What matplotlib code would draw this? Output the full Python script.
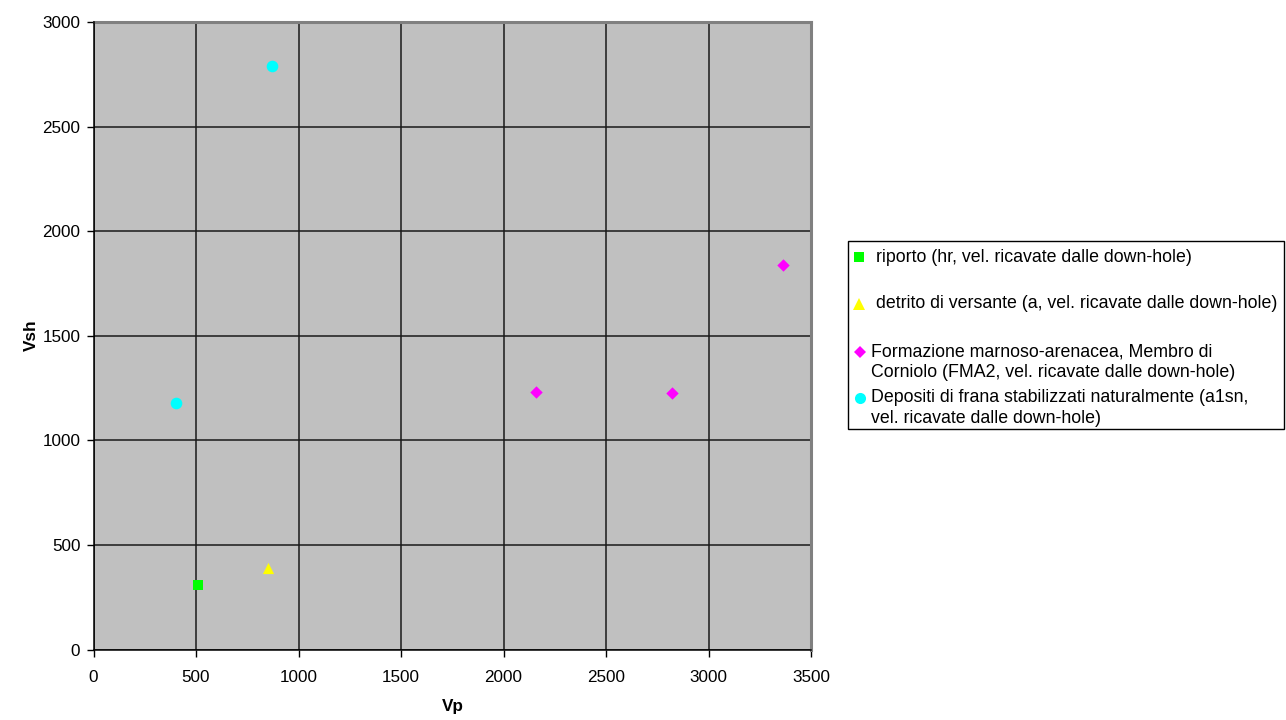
import matplotlib
matplotlib.use("Agg")
import matplotlib.pyplot as plt
from matplotlib.patches import Rectangle
from matplotlib.lines import Line2D

plt.rcParams['font.family'] = ['Liberation Sans', 'DejaVu Sans']

# Velocity measurements (Vp, Vsh) per geological unit
riporto_vp = [510]
riporto_vsh = [310]
detrito_vp = [850]
detrito_vsh = [390]
fma2_vp = [2160, 2820, 3365]
fma2_vsh = [1230, 1228, 1840]
a1sn_vp = [870, 400]
a1sn_vsh = [2790, 1180]

labels = [
    "riporto (hr, vel. ricavate dalle down-hole)",
    "detrito di versante (a, vel. ricavate dalle down-hole)",
    "Formazione marnoso-arenacea, Membro di\nCorniolo (FMA2, vel. ricavate dalle down-hole)",
    "Depositi di frana stabilizzati naturalmente (a1sn,\nvel. ricavate dalle down-hole)",
]
x_ticks = [0, 500, 1000, 1500, 2000, 2500, 3000, 3500]
y_ticks = [0, 500, 1000, 1500, 2000, 2500, 3000]

W, H = 1286, 720
fig = plt.figure(figsize=(W / 100, H / 100), dpi=100)
fig.patch.set_facecolor('white')

left, right, top, bottom = 93.5, 811, 22, 649.5
ax = fig.add_axes([left / W, 1 - bottom / H, (right - left) / W, (bottom - top) / H])
ax.set_facecolor('#C0C0C0')
ax.set_xlim(0, 3500)
ax.set_ylim(0, 3000)
ax.set_xticks(x_ticks)
ax.set_yticks(y_ticks)
ax.grid(True, color='#1a1a1a', linewidth=1.1)
ax.set_axisbelow(True)
for s in ['top', 'right']:
    ax.spines[s].set_color('#808080')
    ax.spines[s].set_linewidth(2.2)
for s in ['left', 'bottom']:
    ax.spines[s].set_color('black')
    ax.spines[s].set_linewidth(1.1)
    ax.spines[s].set_zorder(5)
ax.tick_params(direction='out', length=5, width=1, color='black', labelsize=12.3)
ax.tick_params(axis='y', pad=4.5)
ax.tick_params(axis='x', pad=10)

ax.scatter(riporto_vp, riporto_vsh, marker='s', s=60, color='#00FF00', zorder=4, linewidths=0)
ax.scatter(detrito_vp, detrito_vsh, marker='^', s=65, color='#FFFF00', zorder=4, linewidths=0)
ax.scatter(fma2_vp, fma2_vsh, marker='D', s=40, color='#FF00FF', zorder=4, linewidths=0)
ax.scatter(a1sn_vp, a1sn_vsh, marker='o', s=70, color='#00FFFF', zorder=4, linewidths=0)

# Axis titles placed in pixel coordinates
fig.text(453 / W, 1 - 706 / H, 'Vp', fontsize=12.3, fontweight='bold', ha='center', va='center')
fig.text(31 / W, 1 - 335 / H, 'Vsh', fontsize=12.3, fontweight='bold', ha='center', va='center',
         rotation=90)

# Legend panel drawn in pixel coordinates
lax = fig.add_axes([0, 0, 1, 1])
lax.set_xlim(0, W)
lax.set_ylim(H, 0)
lax.axis('off')
lax.add_patch(Rectangle((848, 241), 436, 188, facecolor='white', edgecolor='black', linewidth=1))
entries = [
    ('s', '#00FF00', 7, 859, 257, 876, 257),
    ('^', '#FFFF00', 8, 859, 304, 876, 304),
    ('D', '#FF00FF', 6, 860, 352, 871, 362),
    ('o', '#00FFFF', 8, 860, 398, 871, 408),
]
for (m, c, ms, mx, my, tx, ty), lab in zip(entries, labels):
    lax.add_line(Line2D([mx], [my], marker=m, markersize=ms, color=c, markeredgewidth=0, linestyle='none'))
    lax.text(tx, ty, lab, fontsize=12.8, va='center', ha='left', linespacing=1.28)

fig.savefig('out.png', dpi=100)
